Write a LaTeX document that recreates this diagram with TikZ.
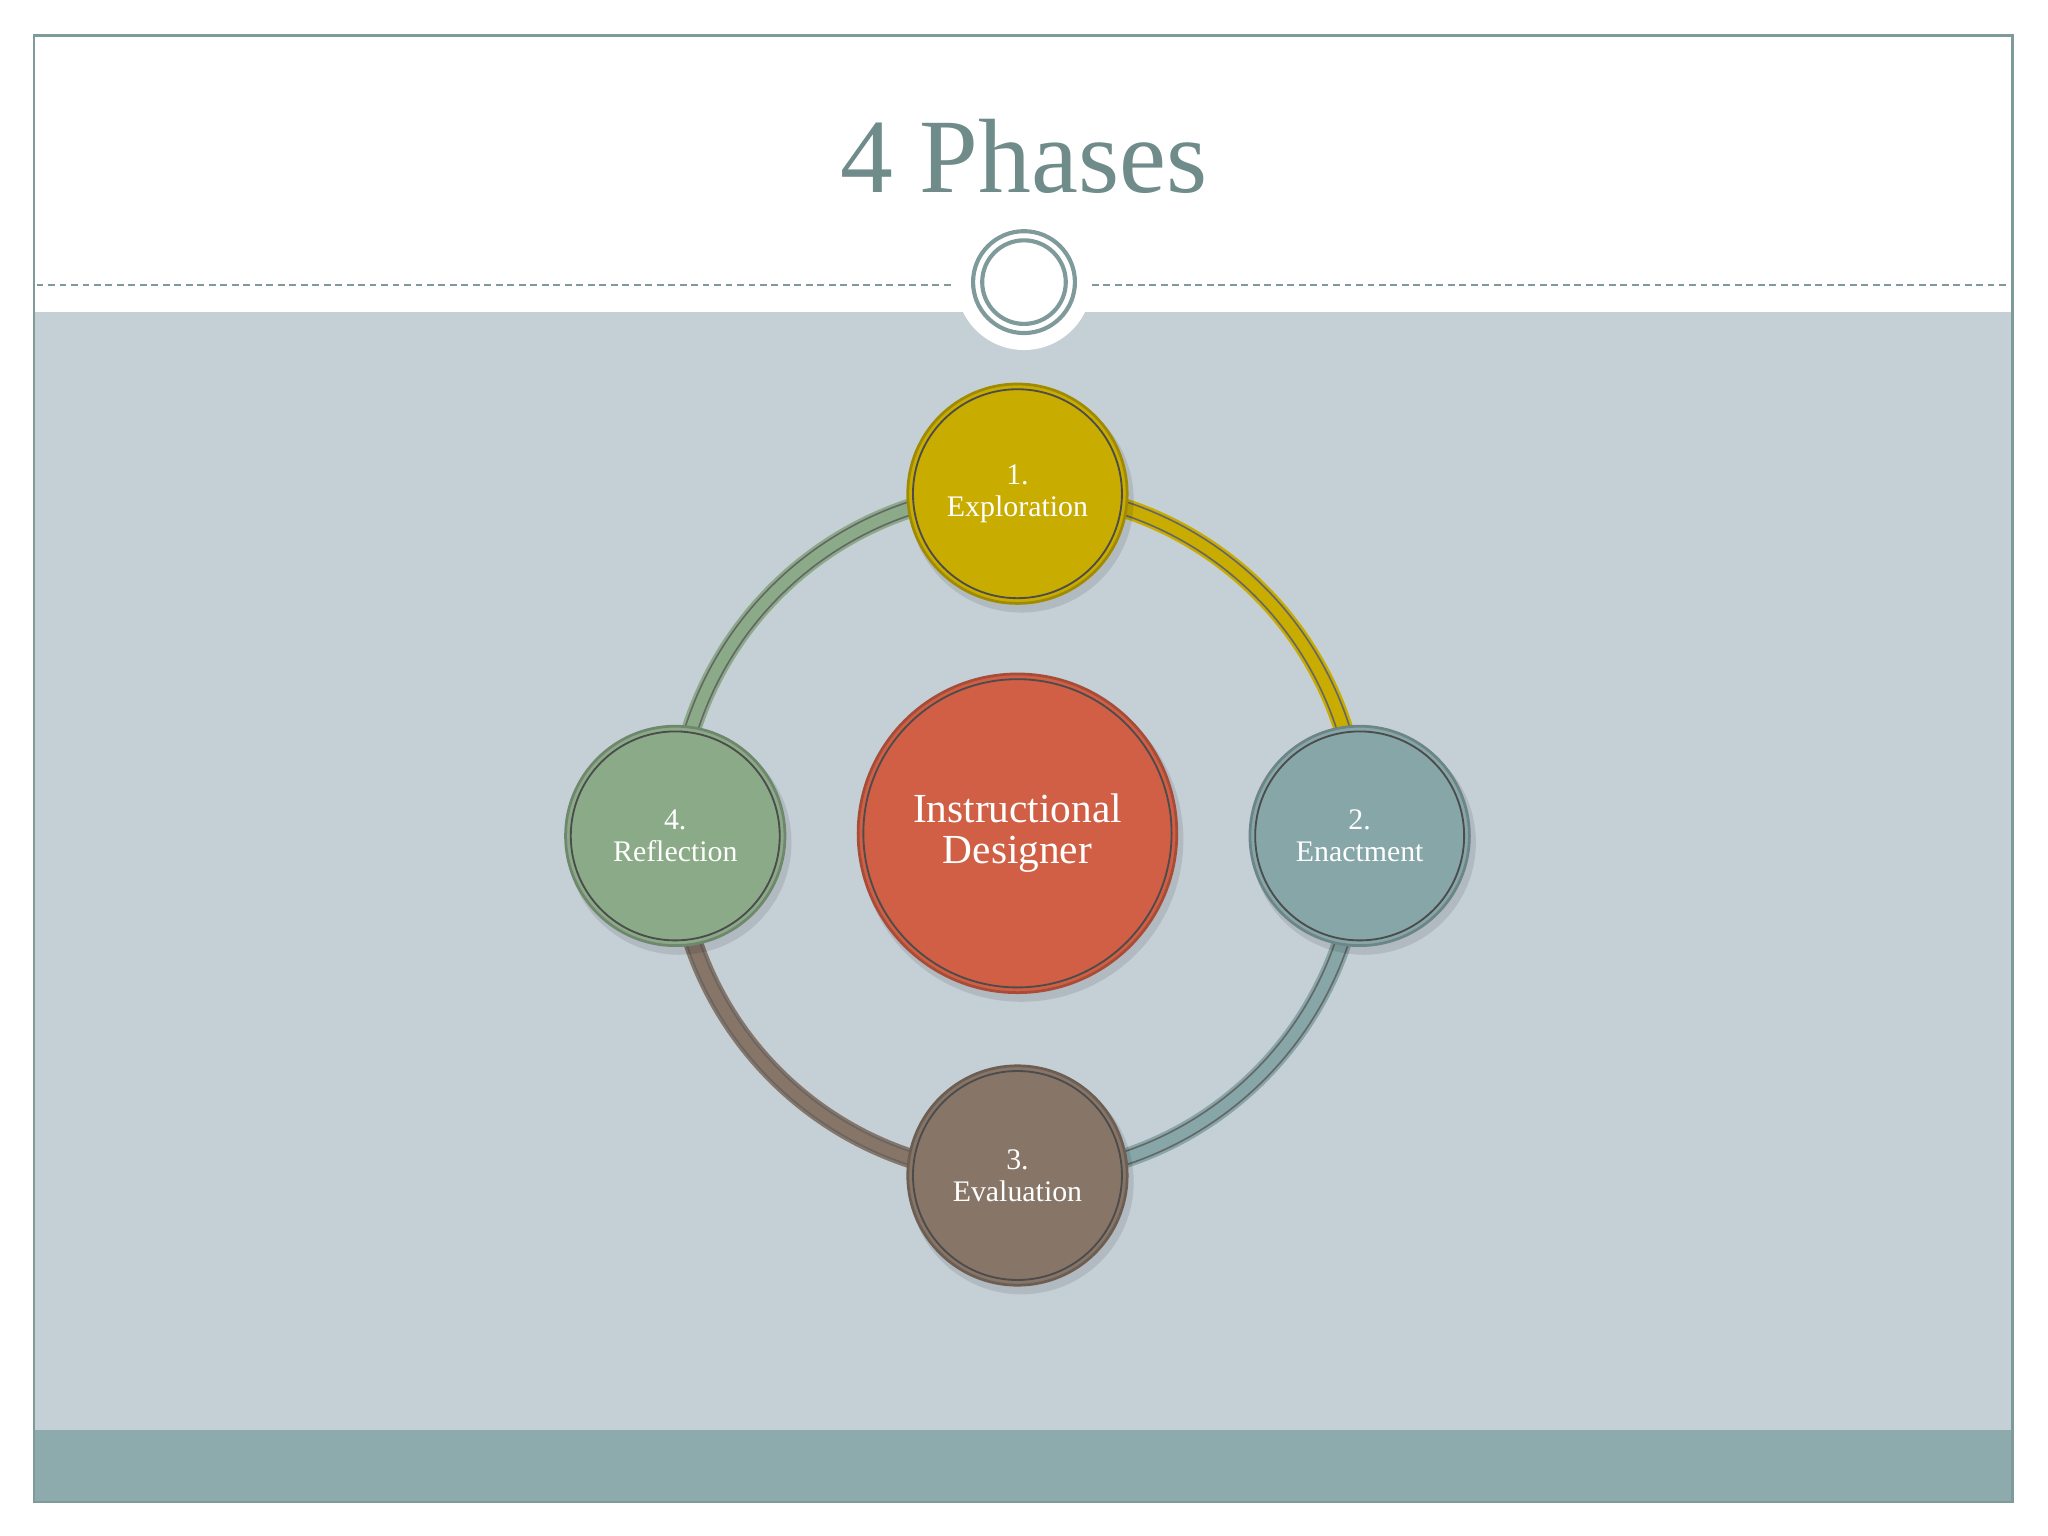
\documentclass[tikz,border=0pt]{standalone}
\usepackage{fontspec}
\setmainfont{Liberation Serif}
\begin{document}
\begin{tikzpicture}[x=0.01cm,y=-0.01cm,
  ph/.style={circle,minimum size=1.68cm,inner sep=0pt,text=white,font=\fontsize{6.5pt}{7pt}\selectfont,align=center},
  inr/.style={draw=black!70,line width=0.4pt}]
\definecolor{frm}{HTML}{7F9A9A}
\definecolor{bg}{HTML}{C5D0D6}
\definecolor{bar}{HTML}{8DAAAD}
\definecolor{ttl}{HTML}{6F8C8A}
\definecolor{cy}{HTML}{C8AC00}
\definecolor{cg}{HTML}{8BAA88}
\definecolor{cb}{HTML}{87A6A8}
\definecolor{cbr}{HTML}{877568}
\definecolor{cr}{HTML}{D05F45}
\useasboundingbox (0,0) rectangle (1568,1176);
\fill[white] (0,0) rectangle (1568,1176);
\fill[bg] (26,239) rectangle (1541,1095);
\fill[bar] (26,1095) rectangle (1541,1150);
\draw[frm,line width=0.6pt] (26,27) rectangle (1541,1150);
\draw[frm,dash pattern=on 1.5pt off 1pt,line width=0.4pt] (28,218) -- (730,218);
\draw[frm,dash pattern=on 1.5pt off 1pt,line width=0.4pt] (836,218) -- (1540,218);
\fill[white] (784,216) circle (52);
\draw[frm,line width=0.9pt] (784,216) circle (39);
\draw[frm,line width=0.9pt] (784,216) circle (32);
\node[text=ttl,font=\fontsize{23pt}{26pt}\selectfont] (title) at (784,120) {4 Phases};
\coordinate (c) at (779,638);
% ring segments
\foreach \col/\a in {cy/270,cb/0,cbr/90,cg/180}{
  \draw[\col,line width=0.15cm] (c) ++(\a:262) arc[start angle=\a,end angle=\a+90,radius=262];
  \draw[black!60,line width=0.35pt] (c) ++(\a:257) arc[start angle=\a,end angle=\a+90,radius=257];
  \draw[black!60,line width=0.35pt] (c) ++(\a:267) arc[start angle=\a,end angle=\a+90,radius=267];
}
\foreach \p/\col in {{(779,378)}/cy,{(1041,640)}/cb,{(779,900)}/cbr,{(517,640)}/cg}{
  \fill[black,opacity=0.1] \p ++(3,5) circle (86);
  \fill[\col] \p circle (84);
  \draw[\col!80!black,line width=0.6pt] \p circle (84);
  \draw[inr] \p circle (80);
}
\node[ph] (expl) at (779,378) {1.\\Exploration};
\node[ph] (enac) at (1041,640) {2.\\Enactment};
\node[ph] (eval) at (779,900) {3.\\Evaluation};
\node[ph] (refl) at (517,640) {4.\\Reflection};
\fill[black,opacity=0.1] (782,643) circle (124);
\fill[cr] (c) circle (122);
\draw[cr!80!black,line width=0.6pt] (c) circle (122);
\draw[inr] (c) circle (118);
\node[text=white,align=center,font=\fontsize{9pt}{9pt}\selectfont] (id) at (c) {Instructional\\Designer};
\end{tikzpicture}
\end{document}
